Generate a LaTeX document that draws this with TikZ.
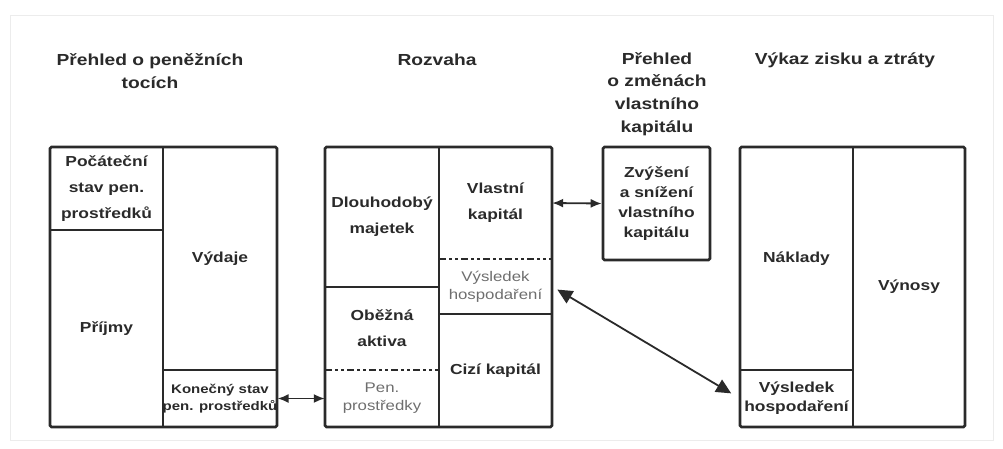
\documentclass[tikz,border=0pt]{standalone}
\usepackage{fontspec}
\setmainfont{Liberation Sans}[FakeStretch=1.2]
\usetikzlibrary{arrows.meta}
\definecolor{ink}{HTML}{2A2A2A}
\definecolor{soft}{HTML}{6E6E6E}
\definecolor{frame}{HTML}{ECECEC}
\begin{document}
\begin{tikzpicture}[x=1pt,y=-1pt,
  box/.style={draw=ink, line width=2.6pt, rounded corners=1.5pt},
  div/.style={draw=ink, line width=1.6pt},
  dd/.style={draw=ink, line width=2pt, dash pattern=on 7pt off 3pt on 3pt off 3pt on 3pt off 3pt},
  cell/.style={inner sep=0pt, align=center, text=ink, font=\bfseries\fontsize{14.5}{26}\selectfont},
  thin/.style={cell, text=soft, font=\fontsize{14}{18}\selectfont},
  ttl/.style={align=center, text=ink, inner sep=0pt, font=\bfseries\fontsize{16}{22.7}\selectfont},
  arr/.style={draw=ink, line width=1.8pt, {Latex[length=11pt,width=9pt]}-{Latex[length=11pt,width=9pt]}},
  bigarr/.style={draw=ink, line width=1.8pt, {Triangle[length=15pt,width=14pt]}-{Triangle[length=15pt,width=14pt]}}
]
\useasboundingbox (0,0) rectangle (1003,448);
\draw[frame, line width=1pt] (10,15) rectangle (993,440);

% titles
\node[ttl] (t1) at (150,71) {Přehled o peněžních\\tocích};
\node[ttl] (t2) at (437,60) {Rozvaha};
\node[ttl] (t3) at (657,94) {Přehled\\o změnách\\vlastního\\kapitálu};
\node[ttl] (t4) at (845,60) {Výkaz zisku a ztráty};

% ---------- cash flow box ----------
\node[box, minimum width=227pt, minimum height=280pt, inner sep=0pt] (cf) at (163.5,287) {};
\draw[div] (163,147) -- (163,427);
\draw[div] (50,230) -- (163,230);
\draw[div] (163,370) -- (277,370);
\node[cell, minimum width=113pt, minimum height=83pt] (poc) at (106.5,188.5) {Počáteční\\stav pen.\\prostředků};
\node[cell, minimum width=113pt, minimum height=197pt] (pri) at (106.5,328.5) {Příjmy};
\node[cell, minimum width=114pt, minimum height=223pt] (vyd) at (220,258.5) {Výdaje};
\node[cell, font=\bfseries\fontsize{12.5}{17}\selectfont, minimum width=114pt, minimum height=57pt] (kon) at (220,398.5) {Konečný stav\\pen. prostředků};

% ---------- balance sheet ----------
\node[box, minimum width=227pt, minimum height=280pt, inner sep=0pt] (bs) at (438.5,287) {};
\draw[div] (439,147) -- (439,427);
\draw[div] (325,287) -- (439,287);
\draw[dd] (325,370) -- (439,370);
\draw[dd] (439,259) -- (552,259);
\draw[div] (439,314) -- (552,314);
\node[cell, minimum width=114pt, minimum height=140pt] (dm) at (382,217) {Dlouhodobý\\majetek};
\node[cell, minimum width=114pt, minimum height=83pt] (oa) at (382,328.5) {Oběžná\\aktiva};
\node[thin, minimum width=114pt, minimum height=57pt] (pp) at (382,398.5) {Pen.\\prostředky};
\node[cell, minimum width=113pt, minimum height=112pt] (vk) at (495.5,203) {Vlastní\\kapitál};
\node[thin, minimum width=113pt, minimum height=55pt] (vh) at (495.5,286.5) {Výsledek\\hospodaření};
\node[cell, minimum width=113pt, minimum height=113pt] (ck) at (495.5,370.5) {Cizí kapitál};

% ---------- equity changes ----------
\node[box, cell, font=\bfseries\fontsize{14.5}{20}\selectfont, minimum width=107pt, minimum height=113pt] (zvy) at (656.5,203.5) {Zvýšení\\a snížení\\vlastního\\kapitálu};

% ---------- income statement ----------
\node[box, minimum width=225pt, minimum height=280pt, inner sep=0pt] (is) at (852.5,287) {};
\draw[div] (853,147) -- (853,427);
\draw[div] (740,370) -- (853,370);
\node[cell, minimum width=113pt, minimum height=223pt] (nak) at (796.5,258.5) {Náklady};
\node[cell, font=\bfseries\fontsize{14.5}{19}\selectfont, minimum width=113pt, minimum height=57pt] (vh2) at (796.5,398.5) {Výsledek\\hospodaření};
\node[cell, minimum width=112pt, minimum height=280pt] (vyn) at (909,287) {Výnosy};

% ---------- connectors ----------
\draw[arr] (kon.east) -- (pp.west);
\draw[arr] (vk.east) -- (zvy.west);
\draw[bigarr, shorten <=6pt, shorten >=10pt] (vh.east) -- (vh2.west);
\end{tikzpicture}
\end{document}
